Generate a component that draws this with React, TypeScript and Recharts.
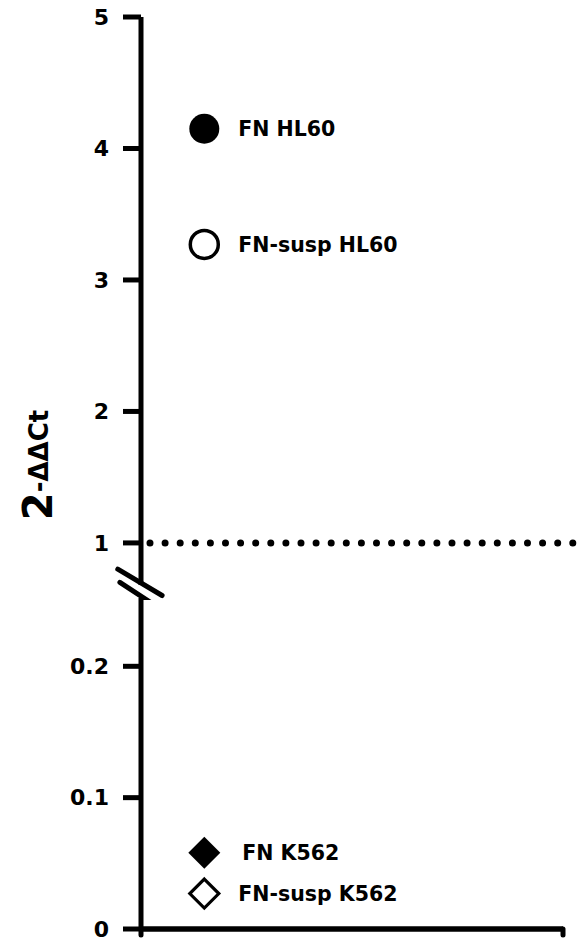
import React from 'react';
import { ScatterChart, Scatter, XAxis, YAxis, ReferenceLine, Label } from 'recharts';

// ---- data ----
const upperTicks = [1, 2, 3, 4, 5];
const lowerTicks = [0, 0.1, 0.2];
const groupX = 0.15;
const referenceValue = 1;

const fnHL60 = [{ x: groupX, y: 4.15, name: 'FN HL60' }];
const fnSuspHL60 = [{ x: groupX, y: 3.27, name: 'FN-susp HL60' }];
const fnK562 = [{ x: groupX, y: 0.058, name: 'FN K562' }];
const fnSuspK562 = [{ x: groupX, y: 0.027, name: 'FN-susp K562' }];

// ---- styles ----
const FONT = 'DejaVu Sans, Arial, sans-serif';
const W = 577;
const H = 941;
const tickStyle = { fill: '#000', fontSize: 22, fontWeight: 'bold', fontFamily: FONT };
const lineStyle = { stroke: '#000', strokeWidth: 5 };

const labelText = (x: number, y: number, text: string) => (
  <text x={x} y={y} dy="0.36em" fontFamily={FONT} fontWeight="bold" fontSize={20.5} fill="#000">
    {text}
  </text>
);

const FilledCircle = (p: any) => (
  <g>
    <circle cx={p.cx} cy={p.cy} r={15} fill="#000" />
    {labelText(p.cx + 34, p.cy, p.payload.name)}
  </g>
);
const OpenCircle = (p: any) => (
  <g>
    <circle cx={p.cx} cy={p.cy} r={14} fill="#fff" stroke="#000" strokeWidth={3.5} />
    {labelText(p.cx + 34, p.cy, p.payload.name)}
  </g>
);
const FilledDiamond = (p: any) => {
  const s = 16;
  return (
    <g>
      <path d={`M${p.cx},${p.cy - s}L${p.cx + s},${p.cy}L${p.cx},${p.cy + s}L${p.cx - s},${p.cy}Z`} fill="#000" />
      {labelText(p.cx + 38, p.cy, p.payload.name)}
    </g>
  );
};
const OpenDiamond = (p: any) => {
  const s = 14.5;
  return (
    <g>
      <path
        d={`M${p.cx},${p.cy - s}L${p.cx + s},${p.cy}L${p.cx},${p.cy + s}L${p.cx - s},${p.cy}Z`}
        fill="#fff"
        stroke="#000"
        strokeWidth={3.2}
        strokeLinejoin="miter"
      />
      {labelText(p.cx + 34, p.cy, p.payload.name)}
    </g>
  );
};

const YLabel = () => (
  <text transform="translate(52, 465) rotate(-90)" textAnchor="middle" fontFamily={FONT} fontWeight="bold" fill="#000">
    <tspan fontSize={40}>2</tspan>
    <tspan fontSize={26} dy={-4}>-ΔΔCt</tspan>
  </text>
);

export default function App() {
  return (
    <div style={{ position: 'absolute', left: 0, top: 0, width: W, height: H, background: '#fff' }}>
      {/* lower segment */}
      <div style={{ position: 'absolute', left: 0, top: 0 }}>
        <ScatterChart width={W} height={H} margin={{ top: 598, right: 14, bottom: 0, left: 0 }}>
          <XAxis
            type="number"
            dataKey="x"
            domain={[0, 1]}
            ticks={[0, 1]}
            interval={0}
            height={12}
            tickSize={6}
            axisLine={{ stroke: '#000', strokeWidth: 5.5 }}
            tickLine={{ stroke: '#000', strokeWidth: 5, strokeLinecap: 'round' }}
            tick={() => <g />}
            allowDataOverflow
          />
          <YAxis
            type="number"
            dataKey="y"
            domain={[0, 0.252]}
            ticks={lowerTicks}
            interval={0}
            width={141}
            tickSize={18}
            tickMargin={14}
            axisLine={lineStyle}
            tickLine={lineStyle}
            tick={tickStyle}
            allowDataOverflow
          />
          <Scatter data={fnK562} shape={FilledDiamond} isAnimationActive={false} />
          <Scatter data={fnSuspK562} shape={OpenDiamond} isAnimationActive={false} />
        </ScatterChart>
      </div>
      {/* upper segment */}
      <div style={{ position: 'absolute', left: 0, top: 0 }}>
        <ScatterChart width={W} height={600} margin={{ top: 17, right: 14, bottom: 15, left: 0 }}>
          <XAxis type="number" dataKey="x" domain={[0, 1]} hide allowDataOverflow />
          <YAxis
            type="number"
            dataKey="y"
            domain={[0.68, 5]}
            ticks={upperTicks}
            interval={0}
            width={141}
            tickSize={18}
            tickMargin={14}
            axisLine={lineStyle}
            tickLine={lineStyle}
            tick={tickStyle}
            allowDataOverflow
          >
            <Label content={<YLabel />} />
          </YAxis>
          <ReferenceLine
            segment={[{ x: 0.0213, y: referenceValue }, { x: 1.033, y: referenceValue }]}
            ifOverflow="visible"
            stroke="#000"
            strokeWidth={7}
            strokeDasharray="0 15.1"
            strokeLinecap="round"
          />
          <ReferenceLine
            segment={[{ x: -0.055, y: 0.8 }, { x: 0.05, y: 0.6 }]}
            ifOverflow="visible"
            stroke="#000"
            strokeWidth={5}
            strokeLinecap="round"
          />
          <ReferenceLine
            segment={[{ x: -0.05, y: 0.7 }, { x: 0.05, y: 0.49 }]}
            ifOverflow="visible"
            stroke="#000"
            strokeWidth={5}
            strokeLinecap="round"
          />
          <Scatter data={fnHL60} shape={FilledCircle} isAnimationActive={false} />
          <Scatter data={fnSuspHL60} shape={OpenCircle} isAnimationActive={false} />
        </ScatterChart>
      </div>
    </div>
  );
}
